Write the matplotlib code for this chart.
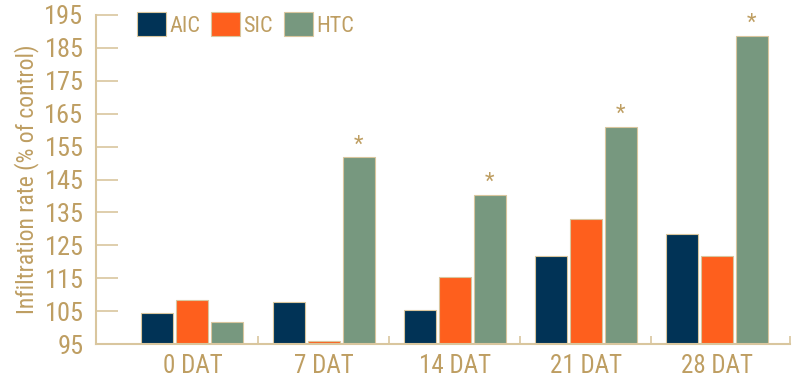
import numpy as np
import matplotlib.pyplot as plt

# Data
categories = ['0 DAT', '7 DAT', '14 DAT', '21 DAT', '28 DAT']
aic = [104.5, 107.9, 105.5, 121.8, 128.4]
sic = [108.4, 96.0, 115.5, 133.0, 121.8]
htc = [101.6, 151.7, 140.3, 160.9, 188.6]
significant = [False, True, True, True, True]
yticks = [95, 105, 115, 125, 135, 145, 155, 165, 175, 185, 195]

plt.rcParams['font.family'] = ['Roboto Condensed', 'DejaVu Sans']
tan = '#BE9E62'
edge = '#D9C69E'

fig = plt.figure(figsize=(8, 3.82), dpi=100)
ax = fig.add_axes([0.12, 0.099, 0.868, 0.862])

x = np.arange(len(categories))
w = 0.244
step = 0.267
series = [('AIC', aic, '#013356'), ('SIC', sic, '#FE5F1D'), ('HTC', htc, '#77987F')]
for i, (name, vals, col) in enumerate(series):
    ax.bar(x + (i - 1) * step, np.array(vals) - 95, w, bottom=95, color=col,
           edgecolor=edge, linewidth=0.8, label=name)

for xi, h, s in zip(x, htc, significant):
    if s:
        ax.text(xi + step, h + 0.6, '*', ha='center', va='bottom', color=tan, fontsize=16)

ax.set_ylim(95, 195)
ax.set_xlim(-0.735, 4.56)
ax.set_yticks(yticks)
ax.set_xticks(x)
ax.set_xticklabels(categories)
ax.set_xticks([0.5, 1.5, 2.5, 3.5, 4.56], minor=True)
ax.tick_params(axis='y', direction='in', length=16, width=1.2, color=edge,
               labelcolor=tan, labelsize=19, pad=9)
ax.tick_params(axis='x', which='major', length=0, labelcolor=tan, labelsize=18, pad=7)
ax.tick_params(axis='x', which='minor', direction='in', length=6, width=1.2, color=edge)

for side in ['top', 'right']:
    ax.spines[side].set_visible(False)
for side in ['left', 'bottom']:
    ax.spines[side].set_color(edge)
    ax.spines[side].set_linewidth(1.5)

ax.set_ylabel('Infiltration rate (% of control)', color=tan, fontsize=17, labelpad=4)

ax.legend(loc='upper left', bbox_to_anchor=(0.046, 1.035), ncol=3, frameon=False,
          fontsize=16, labelcolor=tan, handlelength=1.3, handleheight=1.3,
          handletextpad=0.15, columnspacing=0.5, borderaxespad=0)

plt.savefig('out.png', dpi=100)
